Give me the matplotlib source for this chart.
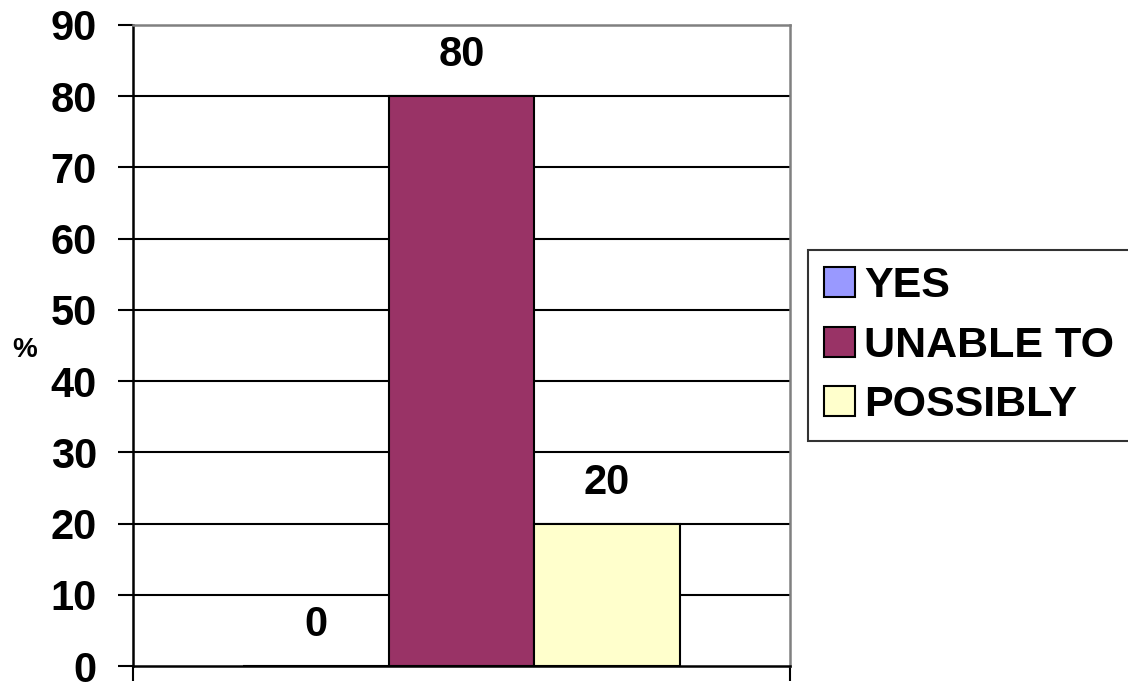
import matplotlib
matplotlib.use("Agg")
import matplotlib.pyplot as plt
import numpy as np

# data
categories = ["YES", "UNABLE TO", "POSSIBLY"]
values = [0, 80, 20]
colors = ["#9999FF", "#993366", "#FFFFCC"]
y_ticks = list(range(0, 100, 10))

plt.rcParams['font.family'] = ['Liberation Sans', 'DejaVu Sans']
plt.rcParams['font.weight'] = 'bold'

W, H = 1128, 682
fig = plt.figure(figsize=(W / 100, H / 100), dpi=100)
ax = fig.add_axes([133 / W, 16 / H, 657 / W, 641 / H])

width = 0.2215
offsets = (np.arange(len(categories)) - 1) * width
for off, val, col, lab in zip(offsets, values, colors, categories):
    ax.bar(off, val, width=width, color=col, edgecolor='black', linewidth=1.5,
           label=lab, zorder=3)
    ax.annotate(str(val), xy=(off, val), xytext=(0, 15), textcoords='offset points',
                ha='center', va='bottom', fontsize=30, fontweight='bold')

ax.set_xlim(-0.5, 0.5)
ax.set_ylim(0, 90)
ax.set_yticks(y_ticks)
ax.set_yticklabels([str(t) for t in y_ticks], fontsize=30, fontweight='bold',
                   va='center_baseline')
ax.set_xticks([-0.5, 0.5])
ax.set_xticklabels([])
ax.tick_params(axis='both', direction='out', length=11, width=1.5, color='black', pad=15)

for y in y_ticks[1:-1]:
    ax.axhline(y, color='black', linewidth=1.5, zorder=1)

ax.spines['left'].set_color('black')
ax.spines['bottom'].set_color('black')
ax.spines['top'].set_color('#808080')
ax.spines['right'].set_color('#808080')
for s in ax.spines.values():
    s.set_linewidth(1.8)

fig.text(25 / W, 1 - 350 / H, "%", ha='center', va='center', fontsize=20, fontweight='bold')

leg = ax.legend(loc='upper left', bbox_to_anchor=(808 / W, 1 - 250 / H),
                bbox_transform=fig.transFigure, fontsize=31, frameon=True,
                fancybox=False, edgecolor='black', borderaxespad=0,
                handlelength=0.7, handleheight=0.7, handletextpad=0.22,
                labelspacing=0.45, borderpad=0.38)
leg.get_frame().set_linewidth(1.5)
for t in leg.get_texts():
    t.set_fontweight('bold')

fig.savefig('out.png', dpi=100)
